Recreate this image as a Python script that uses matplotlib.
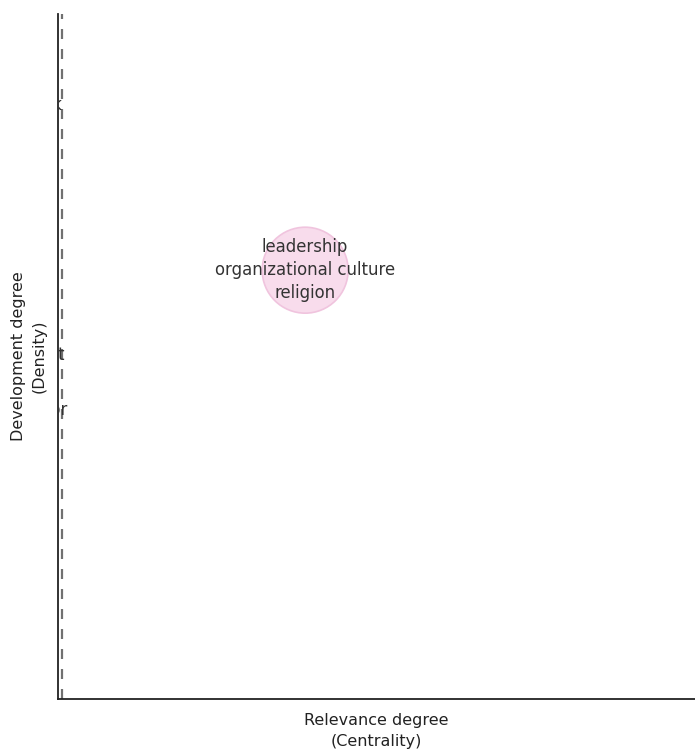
import matplotlib
matplotlib.use("Agg")
import matplotlib.pyplot as plt

# clusters of the thematic map (only the first one falls inside the view)
cluster_labels = ["leadership\norganizational culture\nreligion", "work", "commitment", "behavior"]
centrality = [3.88, -0.25, -0.72, -0.41]
density = [6.26, 8.67, 5.02, 4.22]
bubble_size = [3830, 0, 0, 0]

centrality_median = 0.063

fig = plt.figure(figsize=(6.95, 7.49), dpi=100)
ax = fig.add_axes([58 / 695, 50 / 749, 1 - 58 / 695, 685 / 749])

ax.scatter(centrality, density, s=bubble_size, facecolor="#f8dcec",
           edgecolor="#f0c4de", linewidth=1.2, zorder=2)

for lab, cx, cy in zip(cluster_labels, centrality, density):
    t = ax.text(cx, cy, lab, ha="center", va="center", fontsize=11.9,
                color="#333333", linespacing=1.36, zorder=3)
    t.set_clip_box(ax.bbox)
    t.set_clip_on(True)

ax.axvline(centrality_median, color="#707070", lw=1.6, ls=(0, (4.5, 4.5)), zorder=1)

ax.set_xlim(0, 10)
ax.set_ylim(0, 10)
ax.set_xticks([])
ax.set_yticks([])
for side in ["top", "right"]:
    ax.spines[side].set_visible(False)
for side in ["left", "bottom"]:
    ax.spines[side].set_linewidth(1.3)
    ax.spines[side].set_color("#222222")

ax.set_xlabel("Relevance degree\n(Centrality)", fontsize=11.5, color="#222222",
              labelpad=10, linespacing=1.5)
ax.set_ylabel("Development degree\n(Density)", fontsize=11.5, color="#222222",
              labelpad=8, linespacing=1.5)

fig.savefig("out.png", dpi=100)
